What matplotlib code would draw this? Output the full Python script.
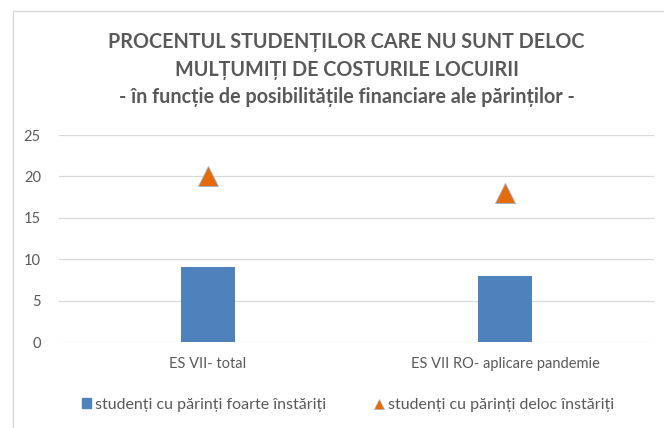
import matplotlib.pyplot as plt
from matplotlib.patches import Patch, Rectangle
from matplotlib.lines import Line2D

# === Data ===
categories = ["ES VII- total", "ES VII RO- aplicare pandemie"]
foarte_instariti = [9, 8]
deloc_instariti = [20, 18]
yticks = [0, 5, 10, 15, 20, 25]

title_lines = [
    "PROCENTUL STUDENȚILOR CARE NU SUNT DELOC",
    "MULȚUMIȚI DE COSTURILE LOCUIRII",
    "- în funcție de posibilitățile financiare ale părinților -",
]
label_a = "studenți cu părinți foarte înstăriți"
label_b = "studenți cu părinți deloc înstăriți"

BLUE = "#4F81BD"
ORANGE = "#E46C0A"
GREY = "#595959"

plt.rcParams['font.family'] = ['Lato', 'DejaVu Sans']

fig = plt.figure(figsize=(6.64, 4.28), dpi=100)

# chart frame
fig.patches.append(Rectangle((13 / 664, -0.1), 1.0, 1.1 - 10.5 / 428,
                             transform=fig.transFigure, fill=False,
                             edgecolor="#d9d9d9", lw=1.0))

ax = fig.add_axes([59 / 664, 1 - 342 / 428, (654 - 59) / 664, (342 - 135) / 428])
x = list(range(len(categories)))
ax.bar(x, foarte_instariti, width=0.18, color=BLUE, zorder=3)
ax.plot(x, deloc_instariti, linestyle="none", marker="^", markersize=15,
        markerfacecolor=ORANGE, markeredgecolor="#9fb3cc", markeredgewidth=0.6, zorder=4)

ax.set_xlim(-0.5, 1.5)
ax.set_ylim(0, 25)
ax.set_yticks(yticks)
ax.set_xticks(x)
ax.set_xticklabels(categories)
ax.grid(axis='y', color="#d9d9d9", lw=0.9, zorder=0)
for s in ax.spines.values():
    s.set_visible(False)
ax.tick_params(axis='both', length=0, labelsize=10.5, colors=GREY, pad=13)
ax.tick_params(axis='x', pad=11)

# title
for i, line in enumerate(title_lines):
    fig.text(0.522, 1 - (42 + i * 27.5) / 428, line, ha='center', va='center',
             fontsize=14.2, fontweight='bold', color=GREY)

handles = [
    Patch(facecolor=BLUE, edgecolor=BLUE),
    Line2D([], [], linestyle="none", marker="^", markersize=7,
           markerfacecolor=ORANGE, markeredgecolor="#9fb3cc", markeredgewidth=0.4),
]
fig.legend(handles, [label_a, label_b], loc='center', bbox_to_anchor=(0.524, 1 - 405 / 428),
           ncol=2, frameon=False, fontsize=11.5, labelcolor=GREY,
           handlelength=0.6, handleheight=0.6, handletextpad=0.25, columnspacing=3.0)

fig.savefig("out.png", dpi=100)
